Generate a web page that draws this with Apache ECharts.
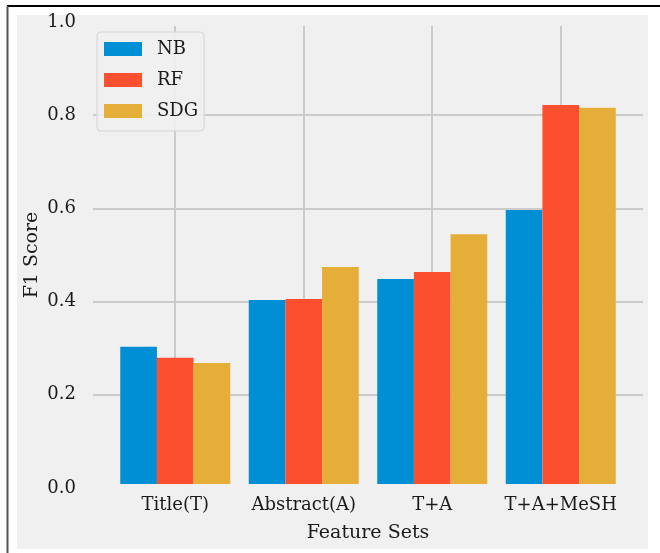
<!DOCTYPE html>
<html>
<head>
<meta charset="utf-8">
<script src="https://cdn.jsdelivr.net/npm/echarts@6/dist/echarts.min.js"></script>
<style>html,body{margin:0;padding:0;background:#fff}#c{width:660px;height:553px}</style>
</head>
<body>
<div id="c"></div>
<script>
const categories = ['Title(T)', 'Abstract(A)', 'T+A', 'T+A+MeSH'];
const seriesNames = ['NB', 'RF', 'SDG'];
const nbValues = [0.303, 0.403, 0.448, 0.596];
const rfValues = [0.279, 0.405, 0.463, 0.821];
const sdgValues = [0.268, 0.474, 0.544, 0.815];
const yTicks = { min: 0, max: 1, interval: 0.2 };
const colors = ['#008fd5', '#fc4f30', '#e5ae38'];
const FONT = 'DejaVu Serif';
const TXT = '#1a1a1a';

const chart = echarts.init(document.getElementById('c'), null, { renderer: 'canvas' });
const seriesData = [nbValues, rfValues, sdgValues];

chart.setOption({
  backgroundColor: '#ffffff',
  animation: false,
  graphic: [
    { type: 'rect', z: -100, shape: { x: 17, y: 15, width: 631, height: 534 }, style: { fill: '#f0f0f0' } },
    { type: 'line', z: -100, shape: { x1: 7, y1: 6, x2: 660, y2: 6 }, style: { stroke: '#000', lineWidth: 2 } },
    { type: 'line', z: -100, shape: { x1: 7.5, y1: 6, x2: 7.5, y2: 553 }, style: { stroke: '#555', lineWidth: 2 } }
  ],
  grid: [
    { left: 111, top: 26, width: 514, height: 458 },
    { left: 93, right: 17, top: 22, bottom: 65 },
    { left: 175, width: 385.5, top: 26, height: 458 }
  ],
  xAxis: [
    {
      gridIndex: 0, type: 'category', data: categories,
      axisLine: { show: false }, axisTick: { show: false },
      axisLabel: { interval: 0, hideOverlap: false, margin: 12, fontFamily: FONT, fontSize: 18, color: TXT },
      splitLine: { show: false },
      name: 'Feature Sets', nameLocation: 'middle', nameGap: 40, nameMoveOverlap: false,
      nameTextStyle: { fontFamily: FONT, fontSize: 19, color: TXT }
    },
    { gridIndex: 1, type: 'value', show: false },
    {
      gridIndex: 2, type: 'value', min: 0, max: 3, interval: 1,
      axisLine: { show: false }, axisTick: { show: false }, axisLabel: { show: false },
      splitLine: { show: true, lineStyle: { color: '#cbcbcb', width: 2 } }
    }
  ],
  yAxis: [
    { gridIndex: 0, type: 'value', min: 0.00857, max: 0.9904, show: false, splitLine: { show: false } },
    {
      gridIndex: 1, type: 'value', min: yTicks.min, max: yTicks.max, interval: yTicks.interval,
      axisLine: { show: false }, axisTick: { show: false },
      axisLabel: { margin: 17, fontFamily: FONT, fontSize: 18, color: TXT, padding: [10, 0, 0, 0],
        formatter: v => v.toFixed(1) },
      splitLine: { show: true, showMinLine: false, showMaxLine: false, lineStyle: { color: '#cbcbcb', width: 2 } },
      name: 'F1 Score', nameLocation: 'middle', nameGap: 51, nameRotate: 90, nameMoveOverlap: false,
      nameTextStyle: { fontFamily: FONT, fontSize: 19, color: TXT }
    },
    { gridIndex: 2, type: 'value', show: false, splitLine: { show: false } }
  ],
  legend: {
    data: seriesNames,
    orient: 'vertical', left: 97, top: 32,
    itemWidth: 38, itemHeight: 14, itemGap: 13,
    icon: 'rect',
    padding: [8, 6, 11, 7],
    backgroundColor: 'rgba(240,240,240,0.9)',
    borderColor: '#d4d4d4', borderWidth: 1, borderRadius: 4,
    textStyle: { fontFamily: FONT, fontSize: 18, color: TXT, lineHeight: 14, padding: [0, 0, 0, 10] }
  },
  series: seriesNames.map((n, i) => ({
    name: n, type: 'bar', xAxisIndex: 0, yAxisIndex: 0,
    data: seriesData[i],
    barGap: '0%', barCategoryGap: '14.4%',
    clip: true,
    itemStyle: { color: colors[i] }
  }))
});
</script>
</body>
</html>
